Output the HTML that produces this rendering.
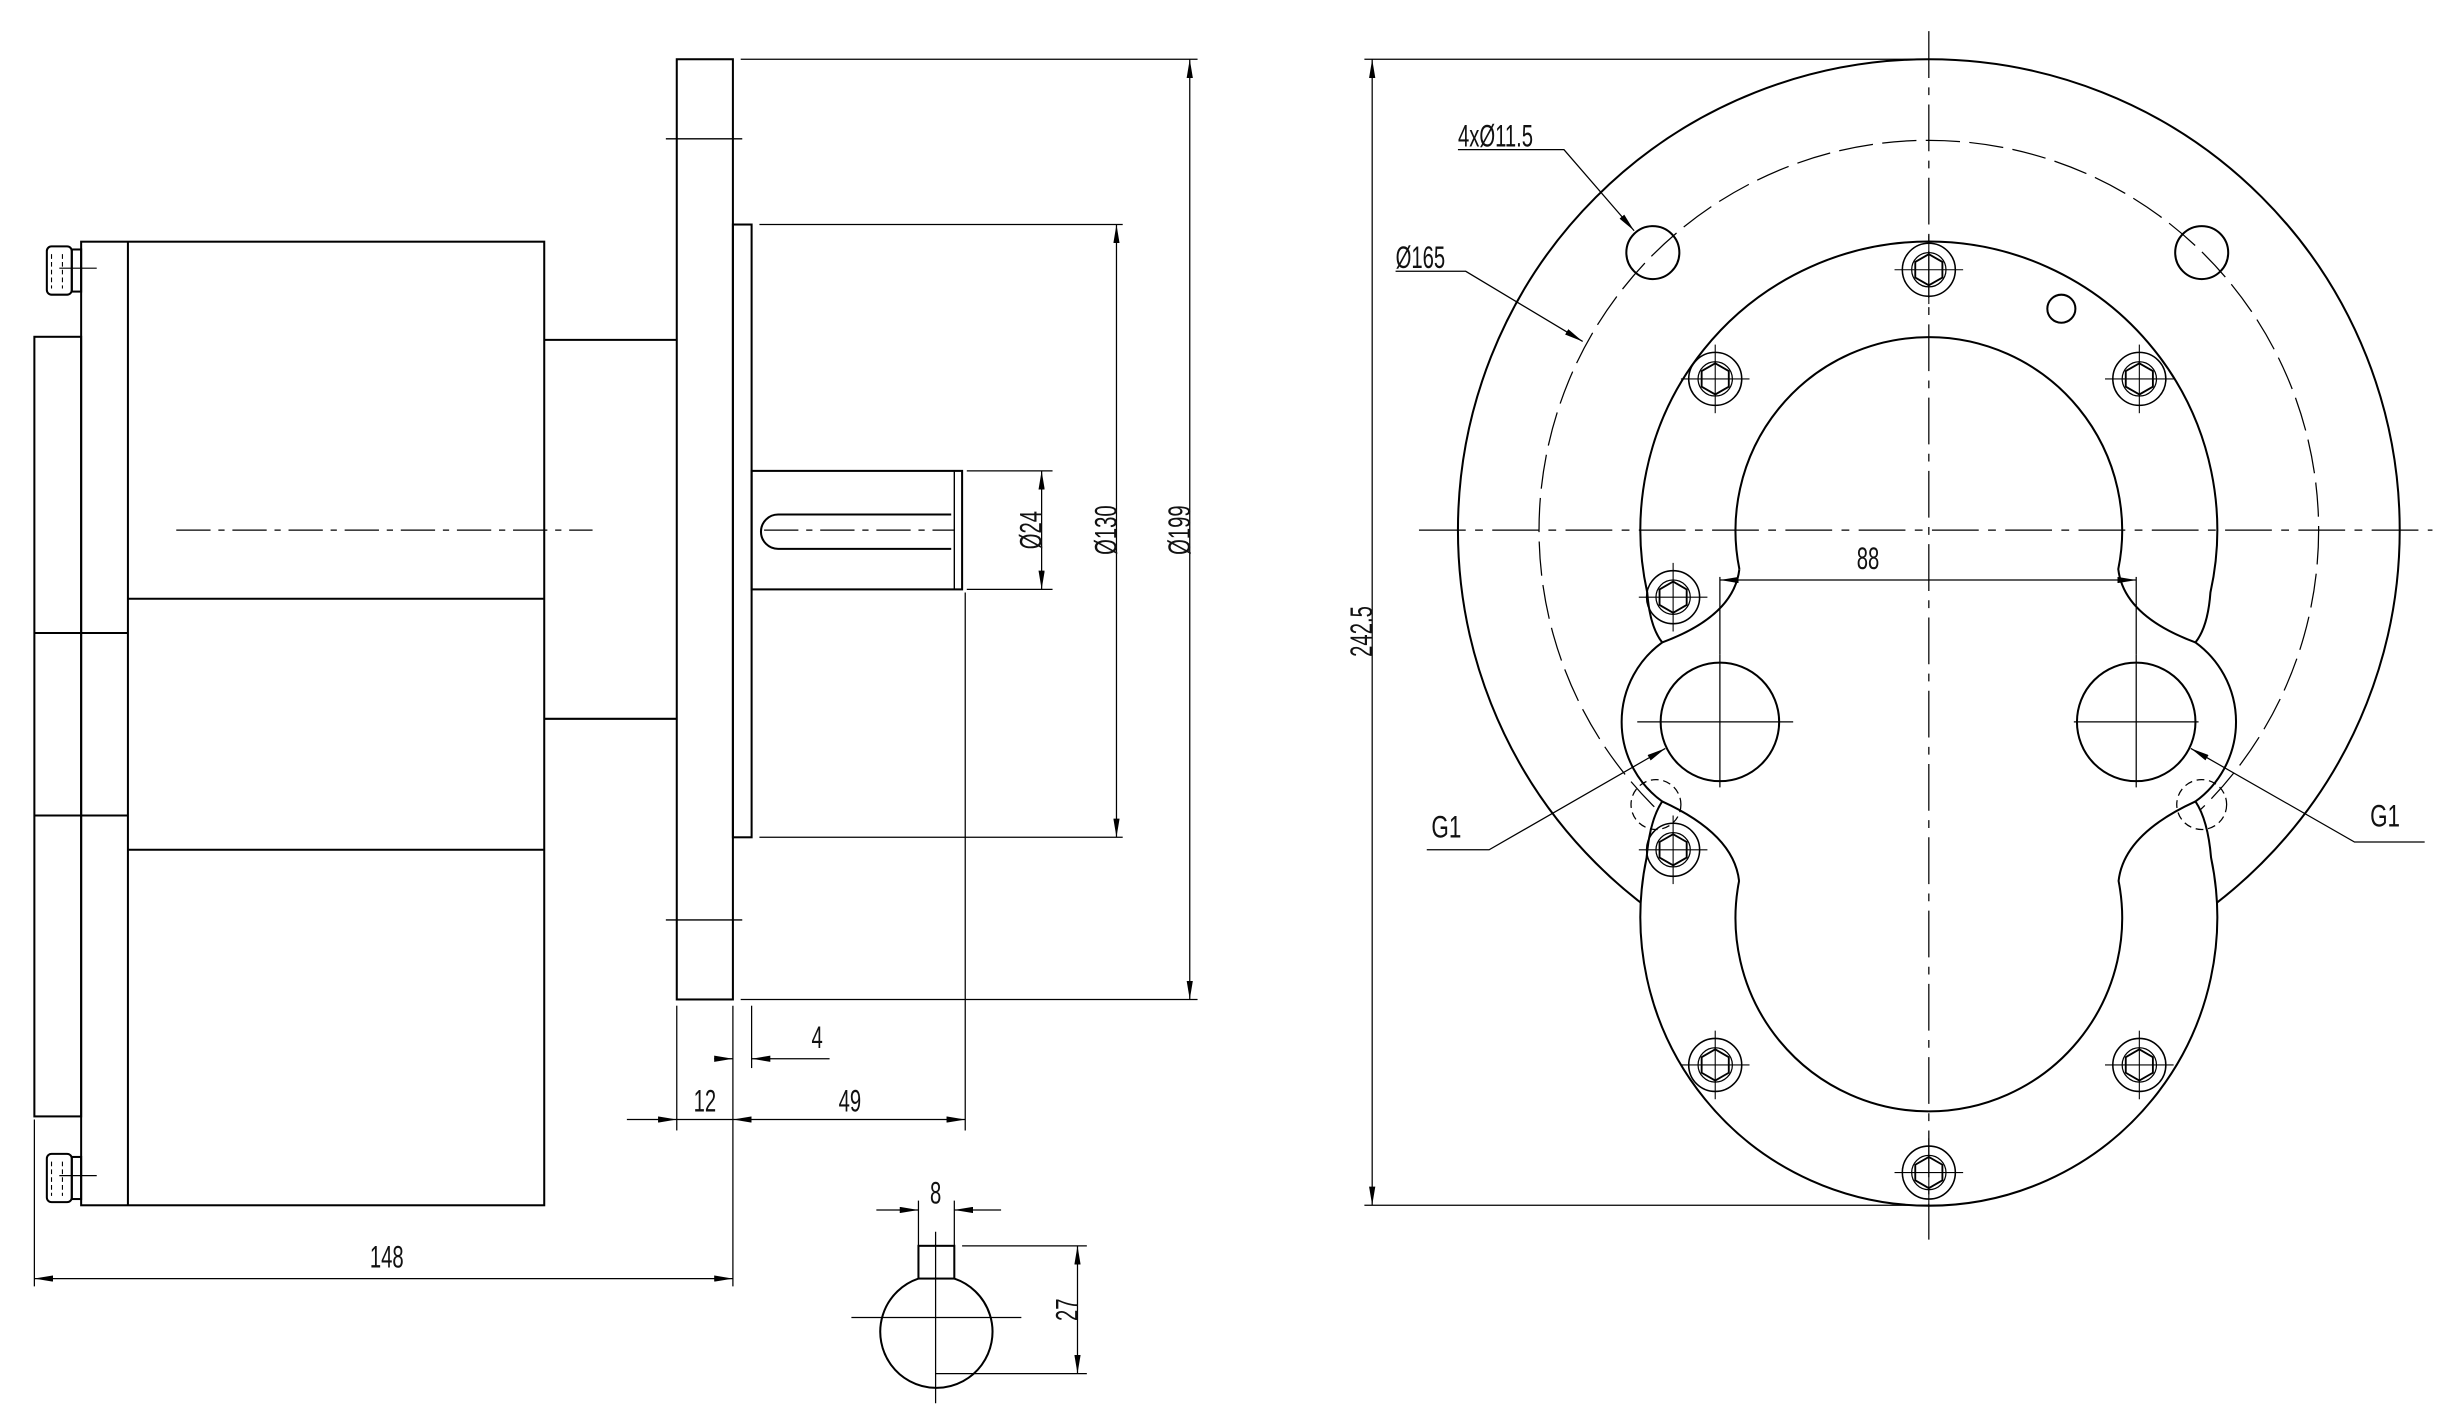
<!DOCTYPE html>
<html><head><meta charset="utf-8"><style>
html,body{margin:0;padding:0;background:#fff;}
svg{display:block;}
text{font-family:"Liberation Sans",sans-serif;font-size:20px;fill:#111;}
</style></head><body>
<svg width="2445" height="1415" viewBox="0 0 1568 907.5" xmlns="http://www.w3.org/2000/svg">
<defs>
<marker id="a" viewBox="0 0 12 4" refX="12" refY="2" markerWidth="12" markerHeight="4" markerUnits="userSpaceOnUse" orient="auto-start-reverse"><path d="M0,0 L12,2 L0,4 z" fill="#000"/></marker>
<g id="bolt"><circle r="17" fill="none" stroke="#000" stroke-width="1"/><polygon points="10,0 5,8.7 -5,8.7 -10,0 -5,-8.7 5,-8.7" transform="rotate(90)" fill="none" stroke="#000" stroke-width="1.2"/><circle r="11" fill="none" stroke="#000" stroke-width="0.8"/><line x1="-22" y1="0" x2="22" y2="0" stroke="#000" stroke-width="0.7"/><line x1="0" y1="-22" x2="0" y2="22" stroke="#000" stroke-width="0.7"/></g>
</defs>
<g fill="none" stroke="#000" stroke-width="1.3">
<!-- LEFT VIEW -->
<rect x="52" y="155" width="297" height="618"/>
<line x1="82" y1="155" x2="82" y2="773"/>
<line x1="82" y1="384" x2="349" y2="384"/>
<line x1="82" y1="545" x2="349" y2="545"/>
<rect x="22" y="216" width="30" height="500"/>
<line x1="22" y1="406" x2="82" y2="406"/>
<line x1="22" y1="523" x2="82" y2="523"/>
<rect x="30" y="158" width="16" height="31" rx="3"/>
<rect x="46" y="160" width="6" height="27"/>
<rect x="30" y="740" width="16" height="31" rx="3"/>
<rect x="46" y="742" width="6" height="27"/>
<g stroke-width="0.7" stroke-dasharray="3 2"><line x1="33" y1="163" x2="33" y2="185"/><line x1="40" y1="163" x2="40" y2="185"/><line x1="33" y1="745" x2="33" y2="767"/><line x1="40" y1="745" x2="40" y2="767"/></g>
<g stroke-width="0.8"><line x1="38" y1="172" x2="62" y2="172"/><line x1="38" y1="754" x2="62" y2="754"/></g>
<polyline points="349,218 434,218"/>
<polyline points="349,461 434,461"/>
<rect x="434" y="38" width="36" height="603"/>
<rect x="470" y="144" width="12" height="393"/>
<rect x="482" y="302" width="135" height="76"/>
<line x1="612" y1="302" x2="612" y2="378" stroke-width="0.9"/>
<path d="M499,330 H610 M499,352 H610 M499,330 A11,11 0 0 0 499,352"/>
<g stroke-width="0.9"><line x1="427" y1="89" x2="476" y2="89"/><line x1="427" y1="590" x2="476" y2="590"/></g>
<g stroke-width="0.8" stroke-dasharray="22 5 4 5"><line x1="113" y1="340" x2="380" y2="340"/><line x1="490" y1="340" x2="612" y2="340"/></g>
<!-- dims left -->
<g stroke-width="0.8">
<line x1="475" y1="38" x2="768" y2="38"/><line x1="475" y1="641" x2="768" y2="641"/>
<line x1="763" y1="38" x2="763" y2="641" marker-start="url(#a)" marker-end="url(#a)"/>
<line x1="487" y1="144" x2="720" y2="144"/><line x1="487" y1="537" x2="720" y2="537"/>
<line x1="716" y1="144" x2="716" y2="537" marker-start="url(#a)" marker-end="url(#a)"/>
<line x1="620" y1="302" x2="675" y2="302"/><line x1="620" y1="378" x2="675" y2="378"/>
<line x1="668" y1="302" x2="668" y2="378" marker-start="url(#a)" marker-end="url(#a)"/>
<line x1="434" y1="645" x2="434" y2="725"/>
<line x1="470" y1="645" x2="470" y2="825"/>
<line x1="482" y1="645" x2="482" y2="685"/>
<line x1="619" y1="380" x2="619" y2="725"/>
<line x1="22" y1="718" x2="22" y2="825"/>
<line x1="458" y1="679" x2="470" y2="679" marker-end="url(#a)"/>
<line x1="532" y1="679" x2="482" y2="679" marker-end="url(#a)"/>
<line x1="402" y1="718" x2="434" y2="718" marker-end="url(#a)"/>
<line x1="434" y1="718" x2="470" y2="718"/>
<line x1="470" y1="718" x2="619" y2="718" marker-start="url(#a)" marker-end="url(#a)"/>
<line x1="22" y1="820" x2="470" y2="820" marker-start="url(#a)" marker-end="url(#a)"/>
</g>
<!-- key section -->
<path d="M589,820 A36,36 0 1 0 612,820"/>
<rect x="589" y="799" width="23" height="21"/>
<g stroke-width="0.8">
<line x1="546" y1="845" x2="655" y2="845"/><line x1="600" y1="790" x2="600" y2="900"/>
<line x1="589" y1="770" x2="589" y2="799"/><line x1="612" y1="770" x2="612" y2="799"/>
<line x1="562" y1="776" x2="589" y2="776" marker-end="url(#a)"/><line x1="642" y1="776" x2="612" y2="776" marker-end="url(#a)"/>
<line x1="617" y1="799" x2="697" y2="799"/><line x1="600" y1="881" x2="697" y2="881"/>
<line x1="691" y1="799" x2="691" y2="881" marker-start="url(#a)" marker-end="url(#a)"/>
</g>
<!-- RIGHT VIEW -->
<circle cx="1237" cy="340" r="302"/>
<circle cx="1237" cy="340" r="250" stroke-width="0.8" stroke-dasharray="22 6"/>
<path fill="#fff" d="M1056.4,380 A185,185 0 1 1 1417.6,380 Q1416,402 1408,412 A63,63 0 0 1 1408,514 Q1416,526 1418,550 A185,185 0 1 1 1056,550 Q1058,526 1066,514 A63,63 0 0 1 1066,412 Q1058,402 1056.4,380 Z"/>
<path d="M1115.5,365 A124,124 0 1 1 1358.5,365 Q1362,395 1408,412 M1115.5,365 Q1112,395 1066,412"/>
<path d="M1115.3,565 A124,124 0 1 0 1358.7,565 Q1362,535 1408,514 M1115.3,565 Q1112,535 1066,514"/>
<circle cx="1103" cy="463" r="38"/><circle cx="1370" cy="463" r="38"/>
<g stroke-width="0.8" stroke-dasharray="5 3"><circle cx="1062" cy="516" r="16"/><circle cx="1412" cy="516" r="16"/></g>
<circle cx="1060" cy="162" r="17"/><circle cx="1412" cy="162" r="17"/>
<circle cx="1322" cy="198" r="9"/>
<g stroke-width="0.8">
<line x1="1050" y1="463" x2="1150" y2="463"/><line x1="1103" y1="420" x2="1103" y2="505"/>
<line x1="1330" y1="463" x2="1410" y2="463"/><line x1="1370" y1="420" x2="1370" y2="505"/>
<line x1="1103" y1="370" x2="1103" y2="420"/><line x1="1370" y1="370" x2="1370" y2="420"/>
<line x1="1103" y1="372" x2="1370" y2="372" marker-start="url(#a)" marker-end="url(#a)"/>
<line x1="875" y1="38" x2="1237" y2="38"/><line x1="875" y1="773" x2="1237" y2="773"/>
<line x1="880" y1="38" x2="880" y2="773" marker-start="url(#a)" marker-end="url(#a)"/>
<polyline points="935,96 1003,96 1048,148" marker-end="url(#a)"/>
<polyline points="895,174 940,174 1015,219" marker-end="url(#a)"/>
<polyline points="915,545 955,545 1068,480" marker-end="url(#a)"/>
<polyline points="1555,540 1510,540 1405,480" marker-end="url(#a)"/>
</g>
<g stroke-width="0.8" stroke-dasharray="30 6 5 6"><line x1="910" y1="340" x2="1560" y2="340"/><line x1="1237" y1="20" x2="1237" y2="795"/></g>
</g>
<g>
<use href="#bolt" x="1237" y="173"/><use href="#bolt" x="1100" y="243"/><use href="#bolt" x="1372" y="243"/>
<use href="#bolt" x="1073" y="383"/><use href="#bolt" x="1073" y="545"/>
<use href="#bolt" x="1100" y="683"/><use href="#bolt" x="1372" y="683"/><use href="#bolt" x="1237" y="752"/>
</g>
<g>
<text transform="translate(661,340) rotate(-90) scale(0.65,1)" text-anchor="middle" dy="7">Ø24</text>
<text transform="translate(709,340) rotate(-90) scale(0.65,1)" text-anchor="middle" dy="7">Ø130</text>
<text transform="translate(756,340) rotate(-90) scale(0.65,1)" text-anchor="middle" dy="7">Ø199</text>
<text transform="translate(524,672) scale(0.65,1)" text-anchor="middle">4</text>
<text transform="translate(452,713) scale(0.65,1)" text-anchor="middle">12</text>
<text transform="translate(545,713) scale(0.65,1)" text-anchor="middle">49</text>
<text transform="translate(248,813) scale(0.65,1)" text-anchor="middle">148</text>
<text transform="translate(600,772) scale(0.65,1)" text-anchor="middle">8</text>
<text transform="translate(684,840) rotate(-90) scale(0.65,1)" text-anchor="middle" dy="7">27</text>
<text transform="translate(873,405) rotate(-90) scale(0.65,1)" text-anchor="middle" dy="7">242.5</text>
<text transform="translate(1198,365) scale(0.65,1)" text-anchor="middle">88</text>
<text transform="translate(935,94) scale(0.65,1)">4xØ11.5</text>
<text transform="translate(895,172) scale(0.65,1)">Ø165</text>
<text transform="translate(918,537) scale(0.72,1)">G1</text>
<text transform="translate(1520,530) scale(0.72,1)">G1</text>
</g>
</svg>
</body></html>
